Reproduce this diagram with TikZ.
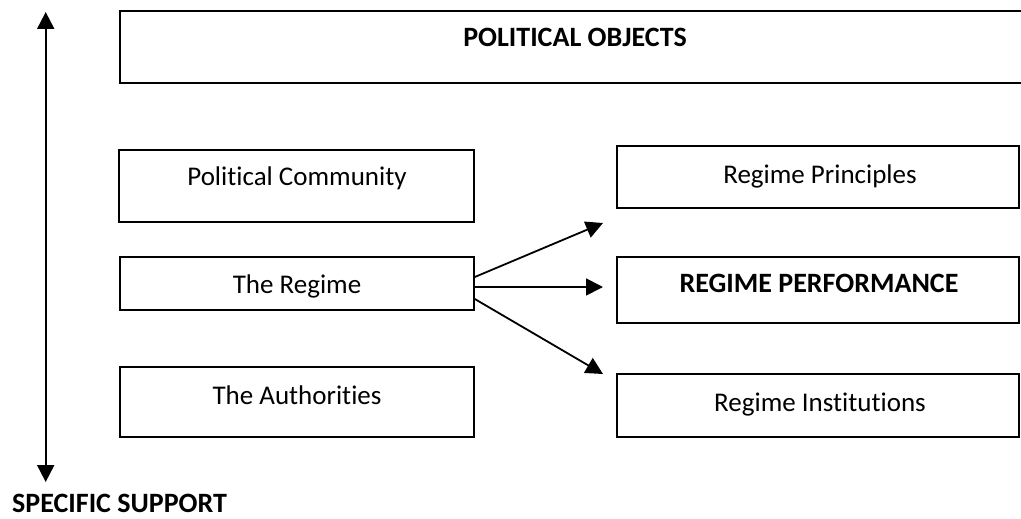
\documentclass[tikz,border=0pt]{standalone}
\usepackage{fontspec}
\setmainfont{Carlito}[Ligatures={NoCommon}]
\usetikzlibrary{arrows.meta}
\tikzset{
  box/.style={draw=black, line width=1.6pt, rectangle, inner sep=0pt},
  lbl/.style={anchor=base, inner sep=0pt, font=\fontsize{27}{32}\selectfont},
  blbl/.style={lbl, font=\fontsize{28}{33}\selectfont\bfseries},
  link/.style={line width=1.8pt, -{Triangle[length=17pt,width=17pt]}},
  axis/.style={line width=2pt, {Triangle[length=17pt,width=17pt]}-{Triangle[length=17pt,width=17pt]}}
}
\begin{document}
\begin{tikzpicture}[x=1pt,y=-1pt]
  \useasboundingbox (0,0) rectangle (1021,519);
  \clip (0,0) rectangle (1021,519);

  % boxes, left column and headline
  \node[box, minimum width=910pt, minimum height=72pt] (objects) at (575,47) {};
  \node[box, minimum width=355pt, minimum height=72pt] (community) at (296.5,186) {};
  \node[box, minimum width=354pt, minimum height=53pt] (regime) at (297,283.5) {};
  \node[box, minimum width=354pt, minimum height=70pt] (authorities) at (297,402) {};

  % boxes, right column
  \node[box, minimum width=402pt, minimum height=62pt] (principles) at (818,177) {};
  \node[box, minimum width=402pt, minimum height=66pt] (performance) at (818,290) {};
  \node[box, minimum width=402pt, minimum height=63pt] (institutions) at (818,405.5) {};

  % labels
  \node[blbl] (tObjects) at (575,47) {POLITICAL OBJECTS};
  \node[lbl] (tCommunity) at (297,185) {Political Community};
  \node[lbl] (tRegime) at (297,293) {The Regime};
  \node[lbl] (tAuthorities) at (297,404) {The Authorities};
  \node[lbl] (tPrinciples) at (820,183) {Regime Principles};
  \node[blbl] (tPerformance) at (819,292) {REGIME PERFORMANCE};
  \node[lbl] (tInstitutions) at (820,411) {Regime Institutions};
  \node[blbl, anchor=base west] (tSupport) at (12,512.5) {SPECIFIC SUPPORT};

  % support axis
  \coordinate (axisTop) at (45.7,12);
  \coordinate (axisBottom) at (45.7,482);
  \draw[axis] (axisTop) -- (axisBottom);

  % arrows from the regime box
  \coordinate (tipP) at (603,223);
  \coordinate (tipR) at (603,287);
  \coordinate (tipI) at (603,374);
  \draw[link] ([yshift=6.5pt]regime.east) -- (tipP);
  \draw[link] ([yshift=-3.5pt]regime.east) -- (tipR);
  \draw[link] ([yshift=-15.5pt]regime.east) -- (tipI);
\end{tikzpicture}
\end{document}
